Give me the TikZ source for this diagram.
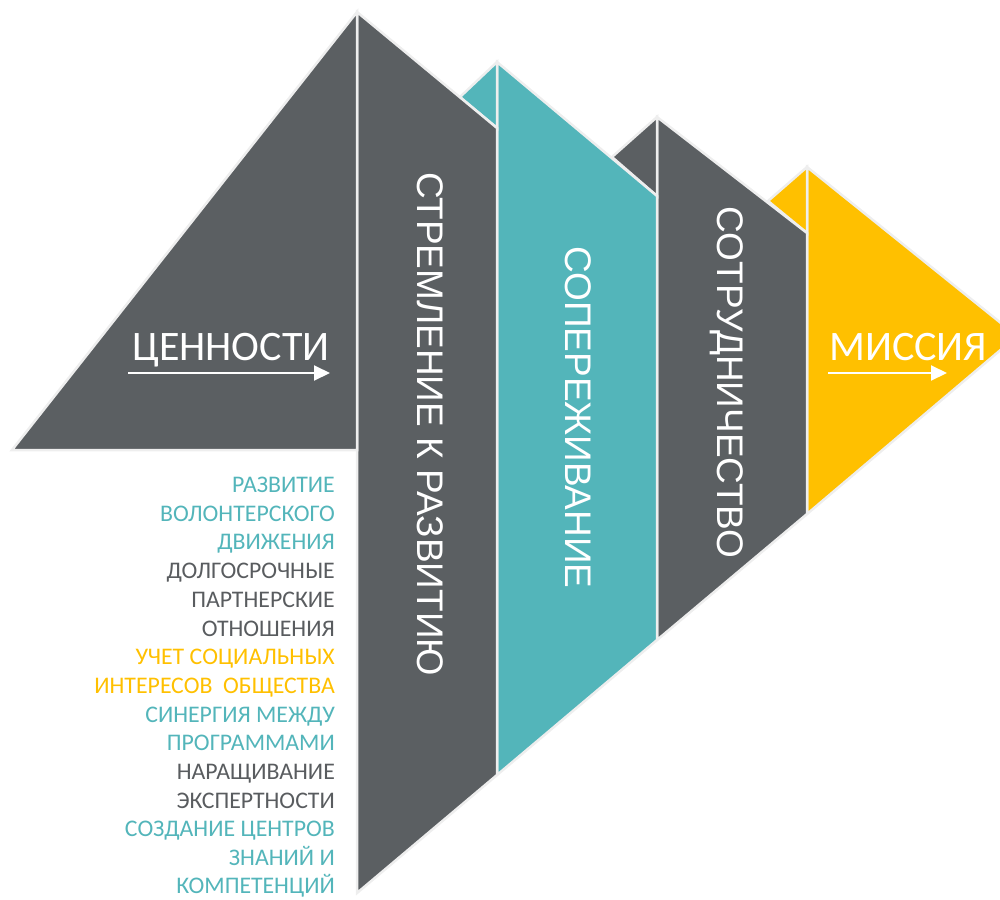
\documentclass[tikz,border=0pt]{standalone}
\usepackage{fontspec}
\setmainfont{Carlito}
\newfontfamily\vertfont{Liberation Sans}
\usetikzlibrary{arrows.meta}
\definecolor{dgray}{HTML}{5B5F62}
\definecolor{teal1}{HTML}{53B5BA}
\definecolor{yel}{HTML}{FFC000}
\definecolor{edge}{HTML}{EEEEEE}
\definecolor{tgray}{HTML}{595C5F}
\begin{document}
\begin{tikzpicture}[x=1pt,y=-1pt,
  panel/.style={draw=edge,line width=2.5pt,line join=miter},
  vtext/.style={text=white,rotate=-90,anchor=base,inner sep=0pt,font=\vertfont\fontsize{37}{40}\selectfont},
  htext/.style={text=white,anchor=base west,inner sep=0pt,font=\fontsize{42}{46}\selectfont},
  ltext/.style={anchor=base east,inner sep=0pt,font=\fontsize{23.8}{26}\selectfont},
  warrow/.style={draw=white,line width=2pt,-{Triangle[length=16pt,width=15pt]}}]
\useasboundingbox (0,0) rectangle (1000,899);
\begin{scope}
\clip (0,0) rectangle (1000,899);
% yellow
\fill[yel,panel] (807,167) -- (1017,336) -- (807,514) -- cycle;
\fill[yel,panel] (768,201) -- (807,167) -- (807,233) -- cycle;
% gray column 3
\fill[dgray,panel] (657,117) -- (807,233) -- (807,514) -- (657,640) -- cycle;
\fill[dgray,panel] (612,157) -- (657,117) -- (657,196) -- cycle;
% teal column
\fill[teal1,panel] (497,62) -- (657,196) -- (657,640) -- (497,775) -- cycle;
\fill[teal1,panel] (460,97) -- (497,62) -- (497,128) -- cycle;
% gray column 2
\fill[dgray,panel] (357,12) -- (497,128) -- (497,775) -- (357,893) -- cycle;
% left triangle
\fill[dgray,panel] (357,12) -- (357,450) -- (12,450) -- cycle;
\end{scope}

\node[htext] (val) at (132,360) {ЦЕННОСТИ};
\coordinate (va1) at (128,373);
\coordinate (va2) at (330,373);
\draw[warrow] (va1) -- (va2);

\node[htext] (mis) at (829,360) {МИССИЯ};
\coordinate (ma1) at (828,373);
\coordinate (ma2) at (947,373);
\draw[warrow] (ma1) -- (ma2);

\node[vtext] (c2) at (417,424) {СТРЕМЛЕНИЕ К РАЗВИТИЮ};
\node[vtext] (c3) at (565,417.5) {СОПЕРЕЖИВАНИЕ};
\node[vtext] (c4) at (717,382.5) {СОТРУДНИЧЕСТВО};

\node[ltext,text=teal1] (l1) at (335,492.5) {РАЗВИТИЕ};
\node[ltext,text=teal1] (l2) at (335,521.2) {ВОЛОНТЕРСКОГО};
\node[ltext,text=teal1] (l3) at (335,549.9) {ДВИЖЕНИЯ};
\node[ltext,text=tgray] (l4) at (335,578.6) {ДОЛГОСРОЧНЫЕ};
\node[ltext,text=tgray] (l5) at (335,607.3) {ПАРТНЕРСКИЕ};
\node[ltext,text=tgray] (l6) at (335,636.0) {ОТНОШЕНИЯ};
\node[ltext,text=yel] (l7) at (335,664.7) {УЧЕТ СОЦИАЛЬНЫХ};
\node[ltext,text=yel] (l8) at (335,693.4) {ИНТЕРЕСОВ\ \ ОБЩЕСТВА};
\node[ltext,text=teal1] (l9) at (335,722.1) {СИНЕРГИЯ МЕЖДУ};
\node[ltext,text=teal1] (l10) at (335,750.8) {ПРОГРАММАМИ};
\node[ltext,text=tgray] (l11) at (335,779.5) {НАРАЩИВАНИЕ};
\node[ltext,text=tgray] (l12) at (335,808.2) {ЭКСПЕРТНОСТИ};
\node[ltext,text=teal1] (l13) at (335,836.9) {СОЗДАНИЕ ЦЕНТРОВ};
\node[ltext,text=teal1] (l14) at (335,865.6) {ЗНАНИЙ И};
\node[ltext,text=teal1] (l15) at (335,893.5) {КОМПЕТЕНЦИЙ};
\end{tikzpicture}
\end{document}
